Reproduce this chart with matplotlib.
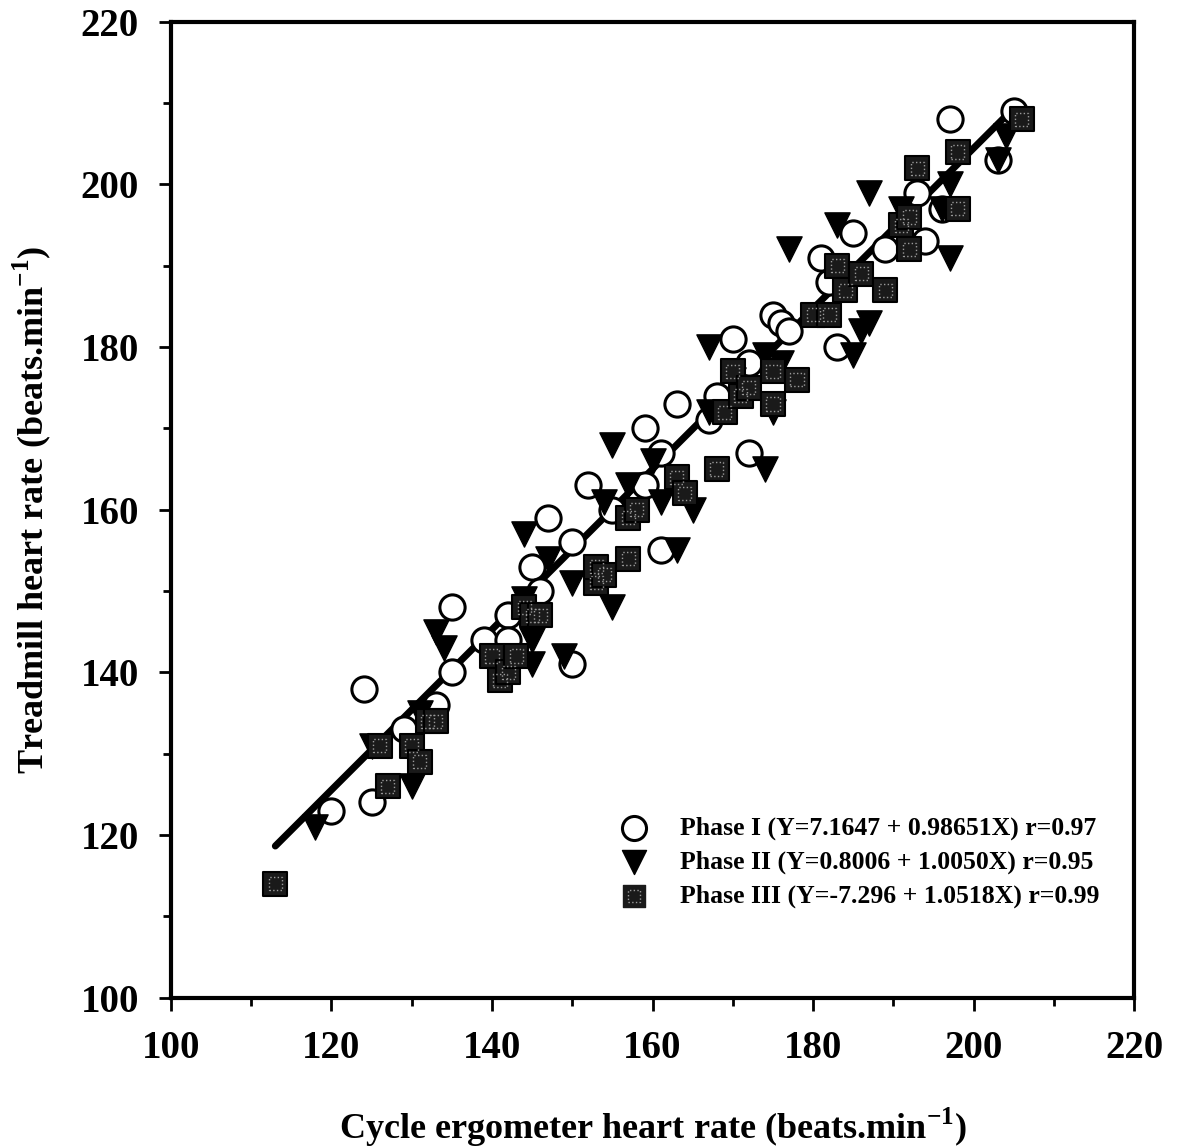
import matplotlib

matplotlib.use("Agg")
import matplotlib.pyplot as plt
import numpy as np
from matplotlib.ticker import MultipleLocator

plt.rcParams["font.family"] = ["Liberation Serif", "DejaVu Serif"]
plt.rcParams["font.weight"] = "bold"
plt.rcParams["mathtext.fontset"] = "custom"
plt.rcParams["mathtext.rm"] = "Liberation Serif:bold"
plt.rcParams["mathtext.bf"] = "Liberation Serif:bold"

# Phase I (open circles)
phase1_x = [120, 124, 125, 129, 133, 135, 135, 139, 142, 142, 145, 146, 147, 150, 150,
            152, 155, 159, 159, 161, 161, 163, 167, 168, 170, 172, 172, 175, 176, 177,
            181, 182, 183, 185, 189, 193, 194, 196, 197, 203, 205]
phase1_y = [123, 138, 124, 133, 136, 140, 148, 144, 147, 144, 153, 150, 159, 156, 141,
            163, 160, 170, 163, 167, 155, 173, 171, 174, 181, 178, 167, 184, 183, 182,
            191, 188, 180, 194, 192, 199, 193, 197, 208, 203, 209]

# Phase II (filled down triangles)
phase2_x = [118, 125, 130, 131, 133, 134, 144, 144, 145, 145, 147, 149, 150, 154, 155,
            155, 157, 160, 161, 163, 165, 167, 167, 170, 174, 174, 175, 176, 177, 183,
            185, 186, 187, 187, 191, 196, 197, 197, 203, 204]
phase2_y = [121, 131, 126, 135, 145, 143, 157, 149, 141, 144, 154, 142, 151, 161, 148,
            168, 163, 166, 161, 155, 160, 180, 172, 176, 165, 179, 172, 178, 192, 195,
            179, 182, 183, 199, 197, 197, 191, 200, 203, 206]

# Phase III (shaded squares)
phase3_x = [113, 126, 127, 130, 131, 132, 133, 140, 141, 142, 143, 144, 145, 146, 153,
            153, 154, 157, 157, 158, 163, 164, 168, 169, 170, 171, 172, 175, 175, 178,
            180, 182, 183, 184, 186, 189, 191, 192, 192, 193, 198, 198, 206]
phase3_y = [114, 131, 126, 131, 129, 134, 134, 142, 139, 140, 142, 148, 147, 147, 151,
            153, 152, 154, 159, 160, 164, 162, 165, 172, 177, 174, 175, 177, 173, 176,
            184, 184, 190, 187, 189, 187, 195, 192, 196, 202, 204, 197, 208]

# common regression line (Phase I equation)
fit_intercept = 7.1647
fit_slope = 0.98651
fit_range = [113, 205.5]

legend_labels = [
    "Phase I (Y=7.1647 + 0.98651X) r=0.97",
    "Phase II (Y=0.8006 + 1.0050X) r=0.95",
    "Phase III (Y=-7.296 + 1.0518X) r=0.99",
]

fig = plt.figure(figsize=(11.79, 11.48), dpi=100)
ax = fig.add_axes([0.145, 0.131, 0.817, 0.850])

lx = np.array(fit_range)
ax.plot(lx, fit_intercept + fit_slope * lx, color="black", lw=5, zorder=2,
        solid_capstyle="round")

ax.scatter(phase1_x, phase1_y, s=330, facecolors="white", edgecolors="black",
           linewidths=2.2, zorder=3)
ax.scatter(phase2_x, phase2_y, s=330, marker="v", color="black", zorder=4)
ax.scatter(phase3_x, phase3_y, s=300, marker="s", color="#1a1a1a",
           edgecolors="black", linewidths=1.5, zorder=5)
ax.scatter(phase3_x, phase3_y, s=90, marker="s", facecolors="none",
           edgecolors="#9a9a9a", linewidths=1.0, linestyle=":", zorder=6)

# legend drawn by hand
leg_x_marker, leg_x_text = 0.481, 0.528
leg_y = [0.174, 0.139, 0.104]
ax.scatter([leg_x_marker], [leg_y[0]], s=300, facecolors="white", edgecolors="black",
           linewidths=2.2, transform=ax.transAxes, zorder=7)
ax.scatter([leg_x_marker], [leg_y[1]], s=300, marker="v", color="black",
           transform=ax.transAxes, zorder=7)
ax.scatter([leg_x_marker], [leg_y[2]], s=260, marker="s", color="#1a1a1a",
           transform=ax.transAxes, zorder=7)
ax.scatter([leg_x_marker], [leg_y[2]], s=80, marker="s", facecolors="none",
           edgecolors="#9a9a9a", linewidths=1.0, linestyle=":",
           transform=ax.transAxes, zorder=8)
for y, lab in zip(leg_y, legend_labels):
    ax.text(leg_x_text, y, lab, transform=ax.transAxes, fontsize=18.5,
            fontweight="bold", va="center", ha="left")

ax.set_xlim(100, 220)
ax.set_ylim(100, 220)
ax.xaxis.set_major_locator(MultipleLocator(20))
ax.xaxis.set_minor_locator(MultipleLocator(10))
ax.yaxis.set_major_locator(MultipleLocator(20))
ax.yaxis.set_minor_locator(MultipleLocator(10))
ax.tick_params(which="both", direction="out", width=2, labelsize=28, pad=14,
               top=False, right=False)
ax.tick_params(which="major", length=9)
ax.tick_params(which="minor", length=6)
for lab in ax.get_xticklabels() + ax.get_yticklabels():
    lab.set_fontweight("bold")
for sp in ax.spines.values():
    sp.set_linewidth(3)

ax.set_xlabel(r"Cycle ergometer heart rate (beats.min$^{\mathbf{-1}}$)",
              fontsize=26, fontweight="bold", labelpad=28)
ax.set_ylabel(r"Treadmill heart rate (beats.min$^{\mathbf{-1}}$)",
              fontsize=26, fontweight="bold", labelpad=20)

fig.savefig("out.png", dpi=100)
